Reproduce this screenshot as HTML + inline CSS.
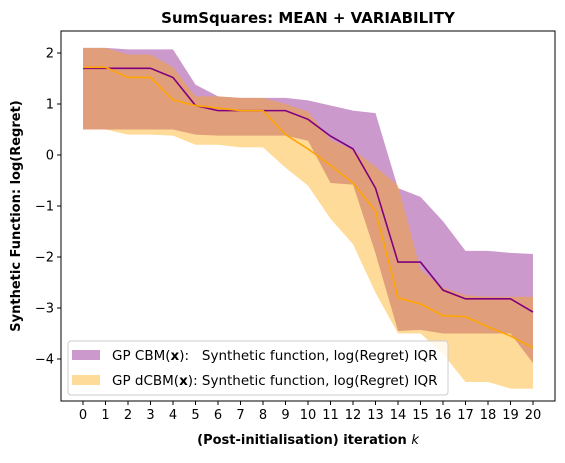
<!DOCTYPE html>
<html><head><meta charset="utf-8"><style>
body{margin:0;background:#fff;}
svg text{font-family:"DejaVu Sans","Liberation Sans",sans-serif;}
</style></head><body>
<svg id="chart" width="565" height="458" viewBox="0 0 565 458">
<rect width="565" height="458" fill="#fff"/>
<text x="308" y="23" text-anchor="middle" font-size="15" font-weight="bold">SumSquares: MEAN + VARIABILITY</text>
<g id="bands"></g>
<g id="lines"></g>
<rect x="61" y="31" width="494" height="370" fill="none" stroke="#000" stroke-width="1"/>
<g id="xticks"></g>
<g id="yticks"></g>
<text x="308" y="444" text-anchor="middle" font-size="13" font-weight="bold">(Post-initialisation) iteration <tspan font-style="italic" font-weight="normal">k</tspan></text>
<text transform="translate(20,216) rotate(-90)" text-anchor="middle" font-size="13" font-weight="bold">Synthetic Function: log(Regret)</text>
<g>
<rect x="68" y="341" width="380" height="54" rx="3" fill="#fff" fill-opacity="0.8" stroke="#ccc"/>
<rect x="72" y="350" width="28" height="10" fill="#800080" fill-opacity="0.4"/>
<text x="112" y="360" font-size="13.5">GP CBM(<tspan font-weight="bold">x</tspan>):&#160;&#160;&#160;Synthetic function, log(Regret) IQR</text>
<rect x="72" y="375" width="28" height="10" fill="#FFA500" fill-opacity="0.4"/>
<text x="112" y="385" font-size="13.5">GP dCBM(<tspan font-weight="bold">x</tspan>): Synthetic function, log(Regret) IQR</text>
</g>
</svg>
<script>
const iterations=[0,1,2,3,4,5,6,7,8,9,10,11,12,13,14,15,16,17,18,19,20];
const cbmMean=[1.7,1.7,1.7,1.7,1.52,0.97,0.87,0.87,0.87,0.87,0.7,0.37,0.12,-0.65,-2.1,-2.1,-2.65,-2.82,-2.82,-2.82,-3.08];
const cbmUpper=[2.1,2.1,2.07,2.07,2.07,1.38,1.15,1.12,1.12,1.12,1.07,0.97,0.87,0.82,-0.65,-0.82,-1.3,-1.88,-1.88,-1.92,-1.94];
const cbmLower=[0.5,0.5,0.5,0.5,0.5,0.4,0.38,0.38,0.38,0.38,0.28,-0.55,-0.58,-1.93,-3.45,-3.43,-3.5,-3.5,-3.5,-3.5,-4.08];
const dcbmMean=[1.72,1.72,1.52,1.52,1.08,0.97,0.92,0.87,0.87,0.4,0.12,-0.2,-0.55,-1.1,-2.8,-2.92,-3.15,-3.17,-3.37,-3.55,-3.78];
const dcbmUpper=[2.1,2.1,1.97,1.97,1.72,1.15,1.15,1.12,1.12,1.0,0.85,0.3,0.1,-0.23,-0.6,-2.25,-2.6,-2.75,-2.78,-2.78,-2.78];
const dcbmLower=[0.5,0.5,0.4,0.4,0.38,0.2,0.2,0.15,0.15,-0.25,-0.6,-1.25,-1.75,-2.7,-3.5,-3.5,-3.9,-4.45,-4.45,-4.58,-4.58];
const yTickVals=[2,1,0,-1,-2,-3,-4];
const yTickLabels=["2","1","0","\u22121","\u22122","\u22123","\u22124"];
const NS="http://www.w3.org/2000/svg";
const xs=i=>83+i*22.5;
const ys=v=>155-v*51;
function band(up,lo,color,name){
  let d="M"+iterations.map((k,i)=>xs(k)+","+ys(up[i])).join("L");
  for(let i=iterations.length-1;i>=0;i--)d+="L"+xs(iterations[i])+","+ys(lo[i]);
  const p=document.createElementNS(NS,"path");
  p.setAttribute("d",d+"Z");p.setAttribute("fill",color);p.setAttribute("fill-opacity","0.4");
  
  
  document.getElementById("bands").appendChild(p);
}
function line(vals,color,name){
  const p=document.createElementNS(NS,"polyline");
  p.setAttribute("points",iterations.map((k,i)=>xs(k)+","+ys(vals[i])).join(" "));
  p.setAttribute("fill","none");p.setAttribute("stroke",color);p.setAttribute("stroke-width","1.6");
  
  
  document.getElementById("lines").appendChild(p);
}
band(cbmUpper,cbmLower,"#800080","cbm-iqr-band");
band(dcbmUpper,dcbmLower,"#FFA500","dcbm-iqr-band");
line(cbmMean,"#800080","cbm-mean-line");
line(dcbmMean,"#FFA500","dcbm-mean-line");
const xt=document.getElementById("xticks");
iterations.forEach(k=>{
  const l=document.createElementNS(NS,"line");
  l.setAttribute("x1",xs(k));l.setAttribute("x2",xs(k));l.setAttribute("y1",401);l.setAttribute("y2",405);l.setAttribute("stroke","#000");
  
  
  xt.appendChild(l);
  const t=document.createElementNS(NS,"text");
  t.setAttribute("x",xs(k));t.setAttribute("y",419);t.setAttribute("text-anchor","middle");t.setAttribute("font-size","13");
  t.textContent=String(k);
  
  
  xt.appendChild(t);
});
const yt=document.getElementById("yticks");
yTickVals.forEach((v,i)=>{
  const l=document.createElementNS(NS,"line");
  l.setAttribute("x1",57);l.setAttribute("x2",61);l.setAttribute("y1",ys(v));l.setAttribute("y2",ys(v));l.setAttribute("stroke","#000");
  
  
  yt.appendChild(l);
  const t=document.createElementNS(NS,"text");
  t.setAttribute("x",54);t.setAttribute("y",ys(v)+4.5);t.setAttribute("text-anchor","end");t.setAttribute("font-size","13");
  t.textContent=yTickLabels[i];
  
  
  yt.appendChild(t);
});
</script>
</body></html>
